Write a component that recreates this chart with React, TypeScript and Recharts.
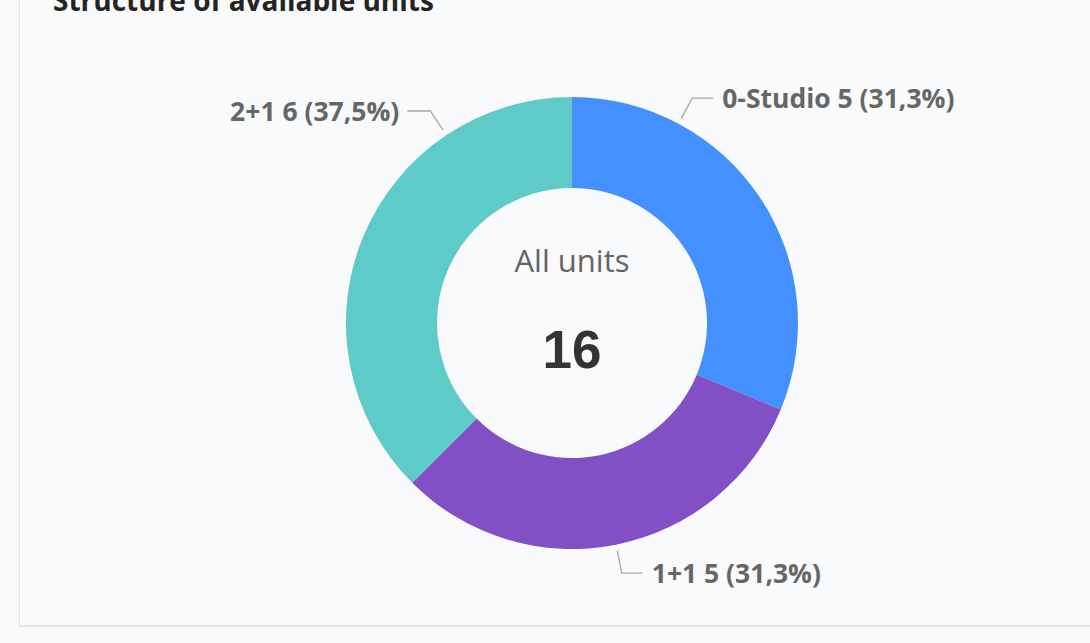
import { PieChart, Pie, Cell } from 'recharts';

const categories = ['0-Studio', '1+1', '2+1'];
const unitCounts = [5, 5, 6];
const sliceColors = ['#4590ff', '#834fc4', '#5ecbc8'];
const totalLabel = 'All units';

const data = categories.map((name, i) => ({ name, value: unitCounts[i] }));
const total = unitCounts.reduce((a, b) => a + b, 0);

const CX = 572;
const CY = 323;

const renderLabel = (props: any) => {
  const { cx, cy, midAngle, outerRadius, percent, name, value } = props;
  // clock angle, 0 at top, clockwise
  let clock = 90 - midAngle;
  while (clock > 180) clock -= 360;
  while (clock <= -180) clock += 360;
  // labels in the upper half get pulled toward the top
  const a = (Math.abs(clock) < 90 ? clock / 2 : clock) * (Math.PI / 180);
  const pt = (r: number) => [cx + r * Math.sin(a), cy - r * Math.cos(a)];
  const [x0, y0] = pt(outerRadius + 6);
  const [x1, y1] = pt(outerRadius + 29);
  const right = Math.sin(a) >= 0;
  const x2 = x1 + (right ? 21 : -23);
  const pct = (percent * 100).toFixed(1).replace('.', ',');
  return (
    <g>
      <polyline
        points={`${x0},${y0} ${x1},${y1} ${x2},${y1}`}
        fill="none"
        stroke="#a6a6a6"
        strokeWidth={1.3}
      />
      <text
        x={x2 + (right ? 9 : -8)}
        y={y1}
        textAnchor={right ? 'start' : 'end'}
        dominantBaseline="central"
        fontFamily="'Open Sans', sans-serif"
        fontWeight={700}
        fontSize={26.5}
        fill="#666666"
      >
        {`${name} ${value} (${pct}%)`}
      </text>
    </g>
  );
};

export default function App() {
  return (
    <div
      style={{
        position: 'absolute',
        left: 0,
        top: 0,
        width: 1090,
        height: 643,
        overflow: 'hidden',
        background: '#f8f9fb',
        fontFamily: "'Open Sans', sans-serif",
      }}
    >
      {/* card */}
      <div
        style={{
          position: 'absolute',
          left: 19,
          top: -20,
          width: 1100,
          height: 644,
          border: '1px solid #e2e4e7',
          borderBottom: '2px solid #e2e4e7',
          background: '#f9fafb',
        }}
      />
      <div
        style={{
          position: 'absolute',
          left: 53,
          top: -17,
          fontSize: 28,
          lineHeight: '34px',
          fontWeight: 700,
          color: '#252423',
          whiteSpace: 'nowrap',
        }}
      >
        Structure of available units
      </div>

      <div style={{ position: 'absolute', left: 0, top: 0 }}>
        <PieChart width={1090} height={643} margin={{ top: 0, right: 0, bottom: 0, left: 0 }}>
          <Pie
            data={data}
            dataKey="value"
            nameKey="name"
            cx={CX}
            cy={CY}
            innerRadius={135}
            outerRadius={226}
            startAngle={90}
            endAngle={-270}
            stroke="none"
            label={renderLabel}
            labelLine={false}
            isAnimationActive={false}
          >
            {data.map((d, i) => (
              <Cell key={d.name} fill={sliceColors[i]} />
            ))}
          </Pie>
        </PieChart>
      </div>

      {/* center text */}
      <div
        style={{
          position: 'absolute',
          left: CX - 150,
          width: 300,
          top: CY - 83,
          lineHeight: '40px',
          textAlign: 'center',
          fontSize: 31,
          color: '#646464',
        }}
      >
        {totalLabel}
      </div>
      <div
        style={{
          position: 'absolute',
          left: CX - 150,
          width: 300,
          top: CY - 3,
          lineHeight: '60px',
          textAlign: 'center',
          fontFamily: "'Liberation Sans', Arial, sans-serif",
          fontWeight: 700,
          fontSize: 53,
          color: '#333333',
        }}
      >
        {total}
      </div>
    </div>
  );
}
